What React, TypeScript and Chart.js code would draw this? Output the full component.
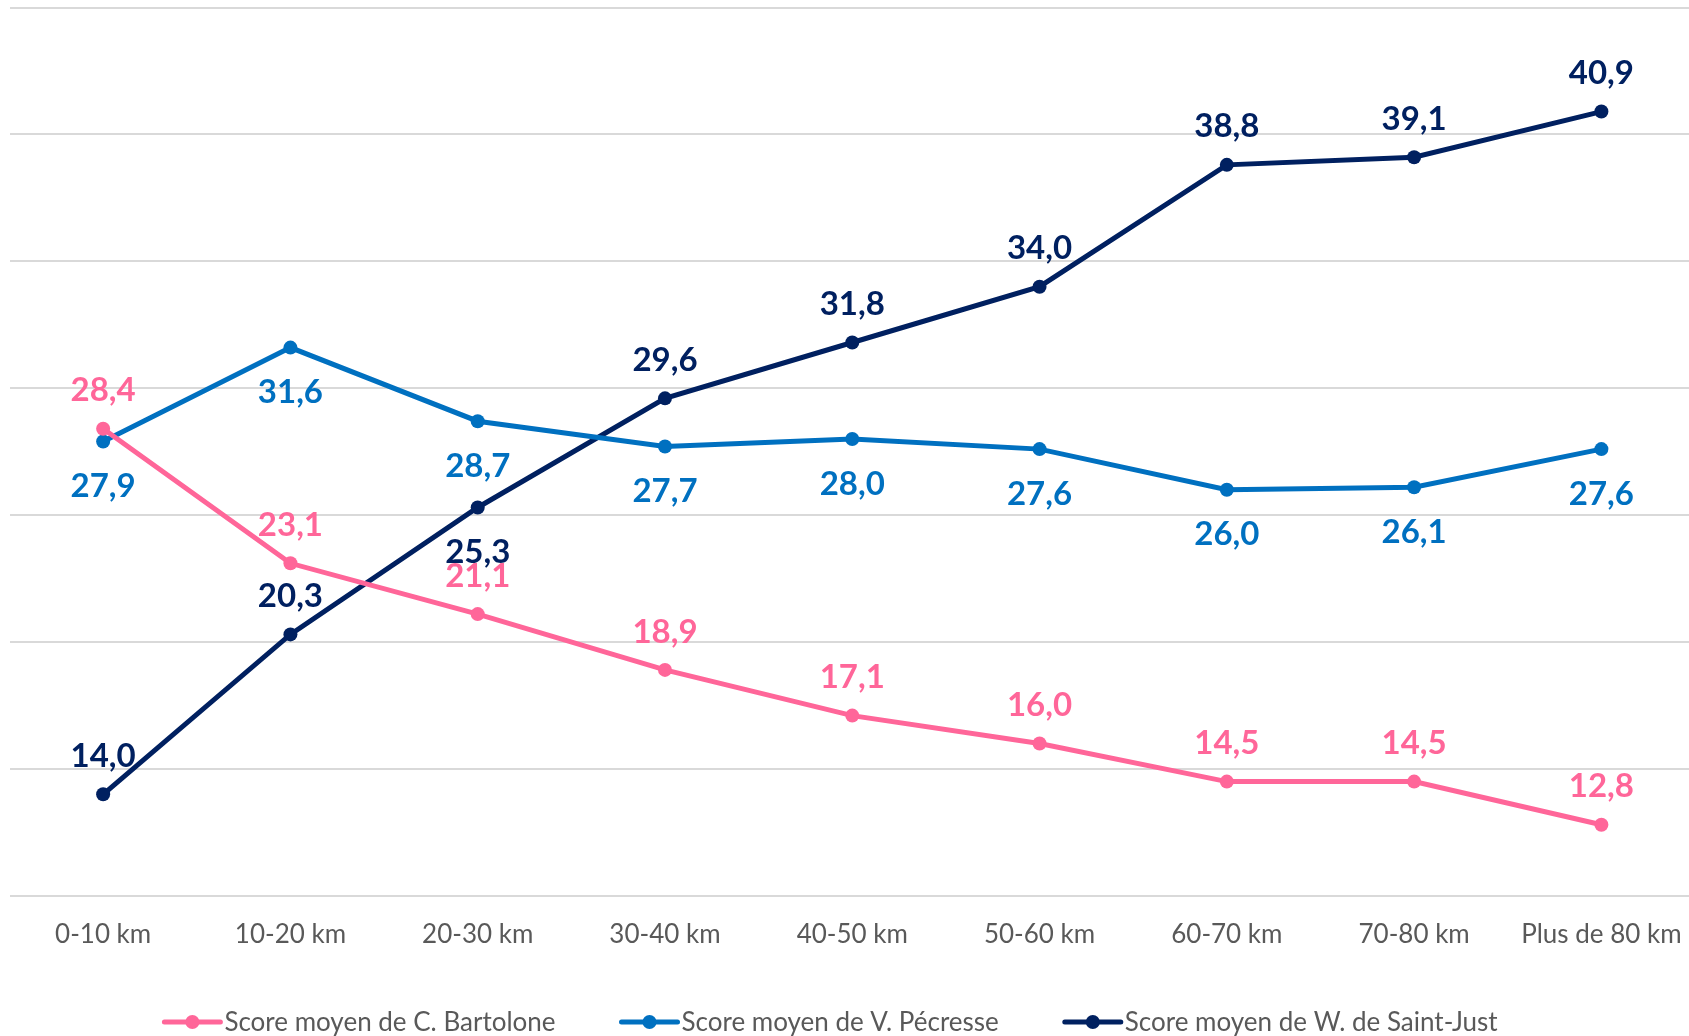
import React, { useEffect, useRef } from "react";
import { Chart, registerables } from "chart.js";

Chart.register(...registerables);

const categories = ["0-10 km", "10-20 km", "20-30 km", "30-40 km", "40-50 km", "50-60 km", "60-70 km", "70-80 km", "Plus de 80 km"];
const seriesNames = ["Score moyen de C. Bartolone", "Score moyen de V. Pécresse", "Score moyen de W. de Saint-Just"];
const bartolone = [28.4, 23.1, 21.1, 18.9, 17.1, 16.0, 14.5, 14.5, 12.8];
const pecresse = [27.9, 31.6, 28.7, 27.7, 28.0, 27.6, 26.0, 26.1, 27.6];
const saintJust = [14.0, 20.3, 25.3, 29.6, 31.8, 34.0, 38.8, 39.1, 40.9];
// label placement per point: 1 = above, -1 = below
const bartolonePos = [1, 1, 1, 1, 1, 1, 1, 1, 1];
const pecressePos = [-1, -1, -1, -1, -1, -1, -1, -1, -1];
const saintJustPos = [1, 1, -1, 1, 1, 1, 1, 1, 1];
const yMin = 10;
const yMax = 45;
const yStep = 5;

const colors = ["#FF6699", "#0070C0", "#002060"];
const FONT = "Lato, 'Open Sans', sans-serif";

const labelPlugin = {
  id: "valueLabels",
  afterDatasetsDraw(chart: any) {
    const ctx = chart.ctx;
    const positions = [bartolonePos, pecressePos, saintJustPos];
    ctx.save();
    ctx.font = `bold 33px ${FONT}`;
    ctx.textAlign = "center";
    ctx.textBaseline = "middle";
    chart.data.datasets.forEach((ds: any, di: number) => {
      const meta = chart.getDatasetMeta(di);
      ctx.fillStyle = colors[di];
      meta.data.forEach((pt: any, i: number) => {
        const v = ds.data[i];
        const pos = positions[di][i];
        const dy = pos > 0 ? -38 : 45;
        ctx.fillText(v.toFixed(1).replace(".", ","), pt.x, pt.y + dy);
      });
    });
    ctx.restore();
  },
};

const legendPlugin = {
  id: "customLegend",
  afterDraw(chart: any) {
    const ctx = chart.ctx;
    ctx.save();
    ctx.font = `26px ${FONT}`;
    ctx.textBaseline = "middle";
    const lineW = 56;
    const textGap = 4;
    const itemGap = 66;
    const widths = seriesNames.map((n) => lineW + textGap + ctx.measureText(n).width);
    const total = widths.reduce((a, b) => a + b, 0) + itemGap * (widths.length - 1);
    const center = 831;
    const y = 1022;
    let x = center - total / 2;
    seriesNames.forEach((n, i) => {
      ctx.strokeStyle = colors[i];
      ctx.lineWidth = 5;
      ctx.lineCap = "round";
      ctx.beginPath();
      ctx.moveTo(x, y);
      ctx.lineTo(x + lineW, y);
      ctx.stroke();
      ctx.fillStyle = colors[i];
      ctx.beginPath();
      ctx.arc(x + lineW / 2, y, 7, 0, Math.PI * 2);
      ctx.fill();
      ctx.fillStyle = "#595959";
      ctx.fillText(n, x + lineW + textGap, y + 1);
      x += widths[i] + itemGap;
    });
    ctx.restore();
  },
};

export default function App() {
  const ref = useRef<HTMLCanvasElement | null>(null);
  useEffect(() => {
    document.body.style.margin = "0";
    const canvas = ref.current;
    if (!canvas) return;
    const seriesData = [bartolone, pecresse, saintJust];
    const chart = new Chart(canvas, {
      type: "line",
      data: {
        labels: categories,
        datasets: seriesData.map((d, i) => ({
          label: seriesNames[i],
          data: d,
          borderColor: colors[i],
          backgroundColor: colors[i],
          pointBackgroundColor: colors[i],
          pointBorderColor: colors[i],
          borderWidth: 5,
          pointRadius: 7,
          pointBorderWidth: 0,
          tension: 0,
          fill: false,
        })),
      },
      options: {
        responsive: false,
        animation: false,
        layout: { padding: { left: 9.5, top: 7.5, right: 0, bottom: 63 } },
        plugins: {
          legend: { display: false },
          tooltip: { enabled: false },
        },
        scales: {
          x: {
            offset: true,
            grid: { display: false, drawTicks: false },
            border: { display: false },
            ticks: {
              padding: 23,
              color: "#595959",
              font: { family: FONT, size: 26 },
              maxRotation: 0,
              autoSkip: false,
            },
          },
          y: {
            min: yMin,
            max: yMax,
            ticks: { display: false, stepSize: yStep },
            grid: { color: "#D9D9D9", lineWidth: 2, drawTicks: false },
            border: { display: false },
          },
        },
      },
      plugins: [labelPlugin, legendPlugin],
    });
    return () => chart.destroy();
  }, []);
  return (
    <div style={{ width: 1689, height: 1036, overflow: "hidden", position: "relative", background: "#fff" }}>
      <canvas ref={ref} width={1705} height={1036} style={{ display: "block" }} />
    </div>
  );
}
